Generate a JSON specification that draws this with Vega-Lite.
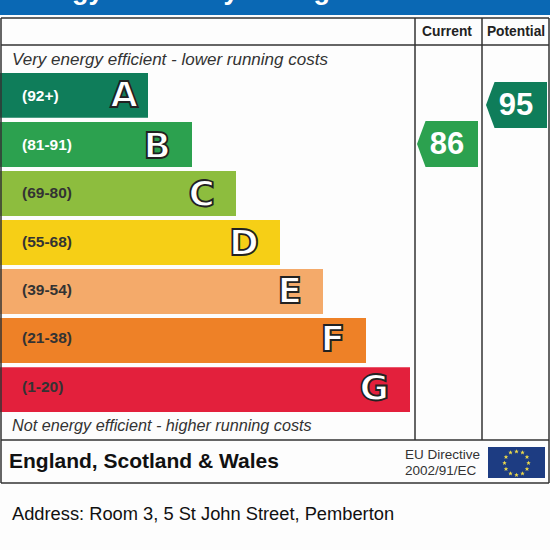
{
"$schema":"https://vega.github.io/schema/vega-lite/v6.json",
"width":550,"height":550,"padding":0,
"autosize":{"type":"none"},
"background":"#fdfdfd",
"view":{"stroke":null},
"config":{"axis":{"disable":true},"legend":{"disable":true}},
"resolve":{"scale":{"x":"independent","y":"independent"}},
"datasets":{
"bands":[
{"rating":"A","range":"(92+)","length":148,"ink":"#ffffff","fill":"#0f7d5a"},
{"rating":"B","range":"(81-91)","length":192,"ink":"#ffffff","fill":"#2ca14f"},
{"rating":"C","range":"(69-80)","length":236,"ink":"#333333","fill":"#8dbd3e"},
{"rating":"D","range":"(55-68)","length":280,"ink":"#333333","fill":"#f6cf16"},
{"rating":"E","range":"(39-54)","length":323,"ink":"#333333","fill":"#f4aa6a"},
{"rating":"F","range":"(21-38)","length":366,"ink":"#333333","fill":"#ee8127"},
{"rating":"G","range":"(1-20)","length":410,"ink":"#333333","fill":"#e3203c"}],
"scores":[{"column":"Current","score":86,"fill":"#2ca14f"},{"column":"Potential","score":95,"fill":"#0f7d5a"}],
"lines":[
{"x":1,"x2":1,"y":18,"y2":483},{"x":549,"x2":549,"y":18,"y2":483},
{"x":1,"x2":549,"y":18,"y2":18},{"x":1,"x2":549,"y":45,"y2":45},
{"x":1,"x2":549,"y":440,"y2":440},{"x":1,"x2":549,"y":483,"y2":483},
{"x":415,"x2":415,"y":18,"y2":440},{"x":482,"x2":482,"y":18,"y2":440}],
"stars":[
{"x":516.5,"y":451.5},{"x":522.5,"y":452.5},{"x":527,"y":457},{"x":528.5,"y":463},{"x":527,"y":469},{"x":522.5,"y":473.5},
{"x":516.5,"y":475},{"x":510.5,"y":473.5},{"x":506,"y":469},{"x":504.5,"y":463},{"x":506,"y":457},{"x":510.5,"y":452.5}]
},
"layer":[
{"data":{"values":[{"x":0,"x2":550,"y":0,"y2":15}]},
 "mark":{"type":"rect","color":"#0a68b4"},
 "encoding":{"x":{"field":"x","type":"quantitative","scale":{"domain":[0,550],"range":[0,550]}},"x2":{"field":"x2"},
 "y":{"field":"y","type":"quantitative","scale":{"domain":[0,550],"range":[0,550]}},"y2":{"field":"y2"}}},
{"data":{"values":[{"x":12,"y":-1,"t":"Energy Efficiency Rating"}]},
 "mark":{"type":"text","align":"left","baseline":"alphabetic","font":"Liberation Sans","fontWeight":"bold","fontSize":27,"color":"#ffffff"},
 "encoding":{"x":{"field":"x","type":"quantitative","scale":{"domain":[-100,550],"range":[-100,550]}},
 "y":{"field":"y","type":"quantitative","scale":{"domain":[-100,550],"range":[-100,550]}},"text":{"field":"t"}}},
{"data":{"name":"bands"},
 "mark":{"type":"bar"},
 "encoding":{"x":{"field":"length","type":"quantitative","scale":{"domain":[0,550],"range":[0,550]}},
 "y":{"field":"rating","type":"nominal","scale":{"domain":["A","B","C","D","E","F","G"],"range":[73,412],"paddingInner":0.085,"paddingOuter":0}},
 "color":{"field":"fill","type":"nominal","scale":null}}},
{"data":{"name":"lines"},
 "mark":{"type":"rule","color":"#333333","strokeWidth":1.5},
 "encoding":{"x":{"field":"x","type":"quantitative","scale":{"domain":[0,550],"range":[0,550]}},"x2":{"field":"x2"},
 "y":{"field":"y","type":"quantitative","scale":{"domain":[0,550],"range":[0,550]}},"y2":{"field":"y2"}}},
{"data":{"name":"bands"},
 "mark":{"type":"text","align":"left","baseline":"middle","font":"Liberation Sans","fontSize":15.5,"fontWeight":"bold","x":22,"yOffset":-1},
 "encoding":{
 "y":{"field":"rating","type":"nominal","scale":{"domain":["A","B","C","D","E","F","G"],"range":[73,412],"paddingInner":0.085,"paddingOuter":0}},
 "text":{"field":"range"},"color":{"field":"ink","type":"nominal","scale":null}}},
{"data":{"name":"bands"},
 "transform":[{"filter":"datum.rating == 'A'"}],
 "mark":{"type":"text","align":"right","baseline":"middle","font":"DejaVu Sans","fontSize":36,"fontWeight":"bold","fill":"#ffffff","stroke":"#222222","strokeWidth":1.8,"xOffset":-10,"yOffset":-1},
 "encoding":{"x":{"field":"length","type":"quantitative","scale":{"domain":[0,550],"range":[0,550]}},
 "y":{"field":"rating","type":"nominal","scale":{"domain":["A","B","C","D","E","F","G"],"range":[73,412],"paddingInner":0.085,"paddingOuter":0}},
 "text":{"field":"rating"}}},
{"data":{"name":"bands"},
 "transform":[{"filter":"datum.rating != 'A'"}],
 "mark":{"type":"text","align":"right","baseline":"middle","font":"DejaVu Sans","fontSize":36,"fontWeight":"bold","fill":"#ffffff","stroke":"#222222","strokeWidth":1.8,"xOffset":-21,"yOffset":1},
 "encoding":{"x":{"field":"length","type":"quantitative","scale":{"domain":[0,550],"range":[0,550]}},
 "y":{"field":"rating","type":"nominal","scale":{"domain":["A","B","C","D","E","F","G"],"range":[73,412],"paddingInner":0.085,"paddingOuter":0}},
 "text":{"field":"rating"}}},
{"data":{"name":"scores"},
 "mark":{"type":"point","filled":true,"opacity":1,"size":3721,"shape":"M-1,0L-0.72,-0.754L1,-0.754L1,0.754L-0.72,0.754Z"},
 "encoding":{"x":{"field":"column","type":"nominal","scale":{"domain":["Current","Potential"],"range":[447.5,516.5],"padding":0}},
 "y":{"field":"score","type":"quantitative","scale":{"domain":[86,95],"range":[144,105]}},
 "color":{"field":"fill","type":"nominal","scale":null}}},
{"data":{"name":"scores"},
 "mark":{"type":"text","font":"Liberation Sans","fontWeight":"bold","fontSize":31,"color":"#ffffff","baseline":"middle","yOffset":1},
 "encoding":{"x":{"field":"column","type":"nominal","scale":{"domain":["Current","Potential"],"range":[447,516],"padding":0}},
 "y":{"field":"score","type":"quantitative","scale":{"domain":[86,95],"range":[144,105]}},"text":{"field":"score","type":"quantitative"}}},
{"data":{"name":"scores"},
 "mark":{"type":"text","font":"Liberation Sans","fontWeight":"bold","fontSize":13.8,"color":"#222222","baseline":"middle","y":32},
 "encoding":{"x":{"field":"column","type":"nominal","scale":{"domain":["Current","Potential"],"range":[447,516],"padding":0}},"text":{"field":"column"}}},
{"data":{"values":[
 {"x":12,"y":65,"t":"Very energy efficient - lower running costs"}]},
 "mark":{"type":"text","align":"left","baseline":"alphabetic","font":"Liberation Sans","fontStyle":"italic","fontSize":17,"color":"#333333"},
 "encoding":{"x":{"field":"x","type":"quantitative","scale":{"domain":[0,550],"range":[0,550]}},
 "y":{"field":"y","type":"quantitative","scale":{"domain":[0,550],"range":[0,550]}},"text":{"field":"t"}}},
{"data":{"values":[
 {"x":12,"y":431,"t":"Not energy efficient - higher running costs"}]},
 "mark":{"type":"text","align":"left","baseline":"alphabetic","font":"Liberation Sans","fontStyle":"italic","fontSize":16.2,"color":"#333333"},
 "encoding":{"x":{"field":"x","type":"quantitative","scale":{"domain":[0,550],"range":[0,550]}},
 "y":{"field":"y","type":"quantitative","scale":{"domain":[0,550],"range":[0,550]}},"text":{"field":"t"}}},
{"data":{"values":[{"x":9,"y":468,"t":"England, Scotland & Wales"}]},
 "mark":{"type":"text","align":"left","baseline":"alphabetic","font":"Liberation Sans","fontWeight":"bold","fontSize":21,"color":"#111111"},
 "encoding":{"x":{"field":"x","type":"quantitative","scale":{"domain":[0,550],"range":[0,550]}},
 "y":{"field":"y","type":"quantitative","scale":{"domain":[0,550],"range":[0,550]}},"text":{"field":"t"}}},
{"data":{"values":[{"x":405,"y":459,"t":"EU Directive"},{"x":405,"y":475,"t":"2002/91/EC"}]},
 "mark":{"type":"text","align":"left","baseline":"alphabetic","font":"Liberation Sans","fontSize":13.5,"color":"#333333"},
 "encoding":{"x":{"field":"x","type":"quantitative","scale":{"domain":[0,550],"range":[0,550]}},
 "y":{"field":"y","type":"quantitative","scale":{"domain":[0,550],"range":[0,550]}},"text":{"field":"t"}}},
{"data":{"values":[{"x":488,"x2":545,"y":447,"y2":478}]},
 "mark":{"type":"rect","color":"#1d3c82"},
 "encoding":{"x":{"field":"x","type":"quantitative","scale":{"domain":[0,550],"range":[0,550]}},"x2":{"field":"x2"},
 "y":{"field":"y","type":"quantitative","scale":{"domain":[0,550],"range":[0,550]}},"y2":{"field":"y2"}}},
{"data":{"name":"stars"},
 "mark":{"type":"point","shape":"M0,-1L0.3,-0.3L1,-0.3L0.45,0.15L0.65,0.9L0,0.45L-0.65,0.9L-0.45,0.15L-1,-0.3L-0.3,-0.3Z","filled":true,"opacity":1,"size":20,"color":"#ecd94a"},
 "encoding":{"x":{"field":"x","type":"quantitative","scale":{"domain":[0,550],"range":[0,550]}},
 "y":{"field":"y","type":"quantitative","scale":{"domain":[0,550],"range":[0,550]}}}},
{"data":{"values":[{"x":12,"y":520,"t":"Address: Room 3, 5 St John Street, Pemberton"}]},
 "mark":{"type":"text","align":"left","baseline":"alphabetic","font":"Liberation Sans","fontSize":18.3,"color":"#111111"},
 "encoding":{"x":{"field":"x","type":"quantitative","scale":{"domain":[0,550],"range":[0,550]}},
 "y":{"field":"y","type":"quantitative","scale":{"domain":[0,550],"range":[0,550]}},"text":{"field":"t"}}}
]
}
